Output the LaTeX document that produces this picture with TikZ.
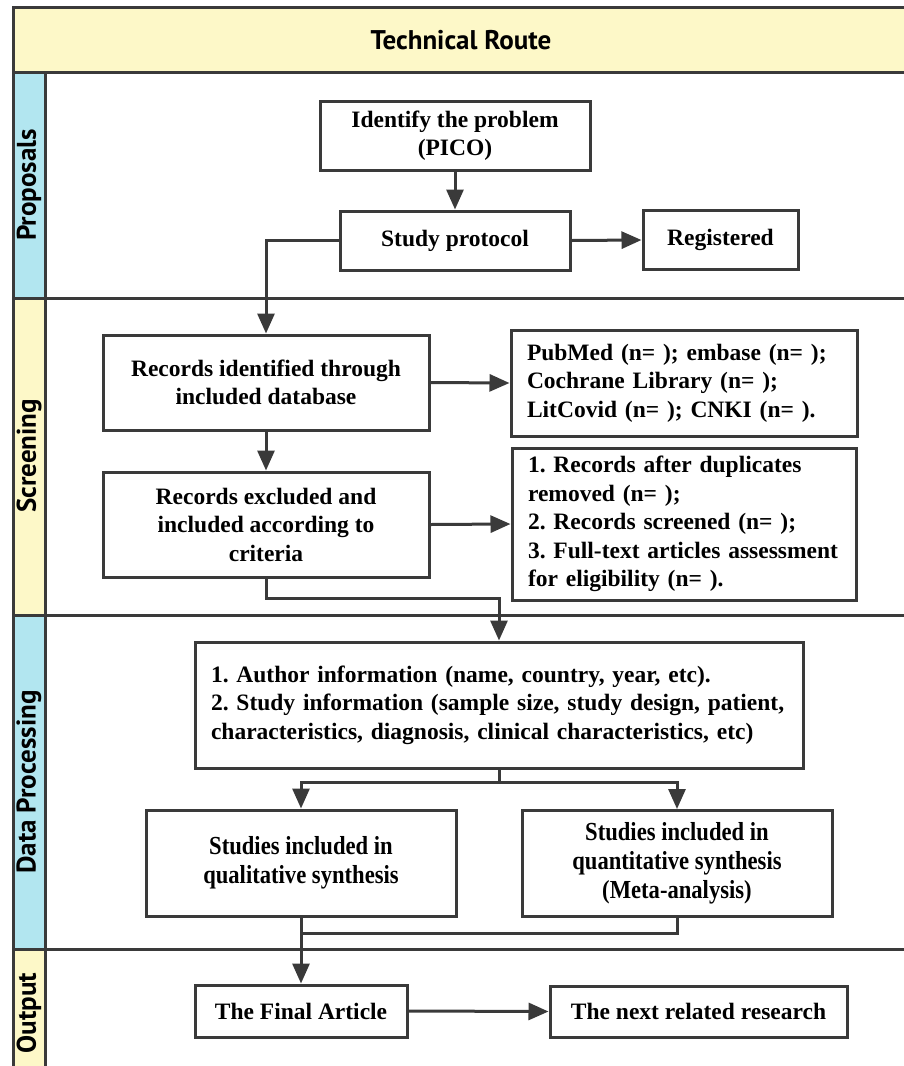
\documentclass[tikz,border=0pt]{standalone}
\usepackage{fontspec}
\setmainfont{Liberation Serif}
\newfontfamily\condserif[FakeStretch=0.87]{Liberation Serif}
\newfontfamily\lanefont{PT Sans}
\usetikzlibrary{arrows.meta}
\definecolor{ln}{RGB}{58,58,58}
\definecolor{laneblue}{RGB}{178,230,240}
\definecolor{laneyel}{RGB}{253,248,200}
\frenchspacing
\newcommand{\oneline}[1]{\mbox{#1}}
\tikzset{
  box/.style={draw=ln,line width=3pt,fill=white,rectangle,inner sep=0pt,align=center,
    font=\fontsize{23.5}{28.5}\selectfont\bfseries},
  cbox/.style={box,font=\condserif\fontsize{26}{29}\selectfont\bfseries},
  lbox/.style={box,align=left,inner xsep=16pt,text width=#1},
  arr/.style={draw=ln,line width=3pt,-{Triangle[length=20pt,width=17pt]}},
  conn/.style={draw=ln,line width=3pt},
  frame/.style={draw=ln,line width=3pt},
  lanelabel/.style={rotate=90,font=\lanefont\bfseries\fontsize{27}{30}\selectfont},
}
\begin{document}
\begin{tikzpicture}[x=1pt,y=-1pt]
\useasboundingbox (0,0) rectangle (903,1066);
% frame
\fill[laneyel] (13,7) rectangle (910,72);
\fill[laneblue] (13,72) rectangle (45,298);
\fill[laneyel] (13,298) rectangle (45,615);
\fill[laneblue] (13,615) rectangle (45,949);
\fill[laneyel] (13,949) rectangle (45,1075);
\draw[frame] (910,7) -- (13,7) -- (13,1075);
\draw[frame] (45,72) -- (45,1075);
\foreach \yy in {72,298,615,949} \draw[frame] (13,\yy) -- (910,\yy);
\node[font=\lanefont\bfseries\fontsize{27}{30}\selectfont] (title) at (461,40) {Technical Route};
\node[lanelabel] (lp) at (29,185) {Proposals};
\node[lanelabel] (ls) at (29,456) {Screening};
\node[lanelabel] (ld) at (29,782) {Data Processing};
\node[lanelabel] (lo) at (29,1013) {Output};
% boxes
\node[box,minimum width=270pt,minimum height=69pt] (idp) at (455,135.5) {Identify the problem\\(PICO)};
\node[box,minimum width=230pt,minimum height=59pt] (sp) at (455,240.5) {Study protocol};
\node[box,minimum width=155pt,minimum height=59pt] (reg) at (720.5,240) {Registered};
\node[box,minimum width=326pt,minimum height=95pt] (rid) at (266,382.5) {Records identified through\\included database};
\node[lbox=314pt,minimum height=106pt] (pub) at (684,383) {\oneline{PubMed (n= ); embase (n= );}\\\oneline{Cochrane Library (n= );}\\\oneline{LitCovid (n= ); CNKI (n= ).}};
\node[box,minimum width=326pt,minimum height=105pt] (rex) at (266,524.5) {Records excluded and\\included according to\\criteria};
\node[lbox=312pt,minimum height=152pt] (crit) at (684,524) {\oneline{1. Records after duplicates}\\\oneline{removed (n= );}\\\oneline{2. Records screened (n= );}\\\oneline{3. Full-text articles assessment}\\\oneline{for eligibility (n= ).}};
\node[lbox=576pt,minimum height=126pt] (auth) at (499,705) {\oneline{1. Author information (name, country, year, etc).}\\\oneline{2. Study information (sample size, study design, patient,}\\\oneline{characteristics, diagnosis, clinical characteristics, etc)}};
\node[cbox,minimum width=310pt,minimum height=106pt] (qual) at (301,863) {Studies included in\\qualitative synthesis};
\node[cbox,minimum width=310pt,minimum height=106pt] (quant) at (677,863.5) {Studies included in\\quantitative synthesis\\(Meta-analysis)};
\node[box,minimum width=212pt,minimum height=52pt] (fin) at (301,1011) {The Final Article};
\node[box,minimum width=297pt,minimum height=51pt] (nxt) at (698.5,1011.5) {The next related research};
% connectors
\draw[arr] (idp.south) -- (sp.north);
\draw[arr] (sp.east) -- (reg.west);
\draw[arr] (sp.west) -| (rid.north);
\draw[arr] (rid.south) -- (rex.north);
\draw[arr] (rid.east) -- (pub.west);
\draw[arr] (rex.east) -- (crit.west);
\coordinate (rexd) at ([yshift=-20pt]rex.south);
\draw[arr] (rex.south) -- (rexd) -| (auth.north);
\coordinate (br) at ([yshift=-13pt]auth.south);
\draw[conn] (auth.south) -- (br);
\draw[arr] (br) -| (qual.north);
\draw[arr] (br) -| (quant.north);
\coordinate (mg) at ([yshift=-16pt]qual.south);
\draw[conn] (quant.south) |- (mg);
\draw[arr] (qual.south) -- (fin.north);
\draw[arr] (fin.east) -- (nxt.west);
\end{tikzpicture}
\end{document}
